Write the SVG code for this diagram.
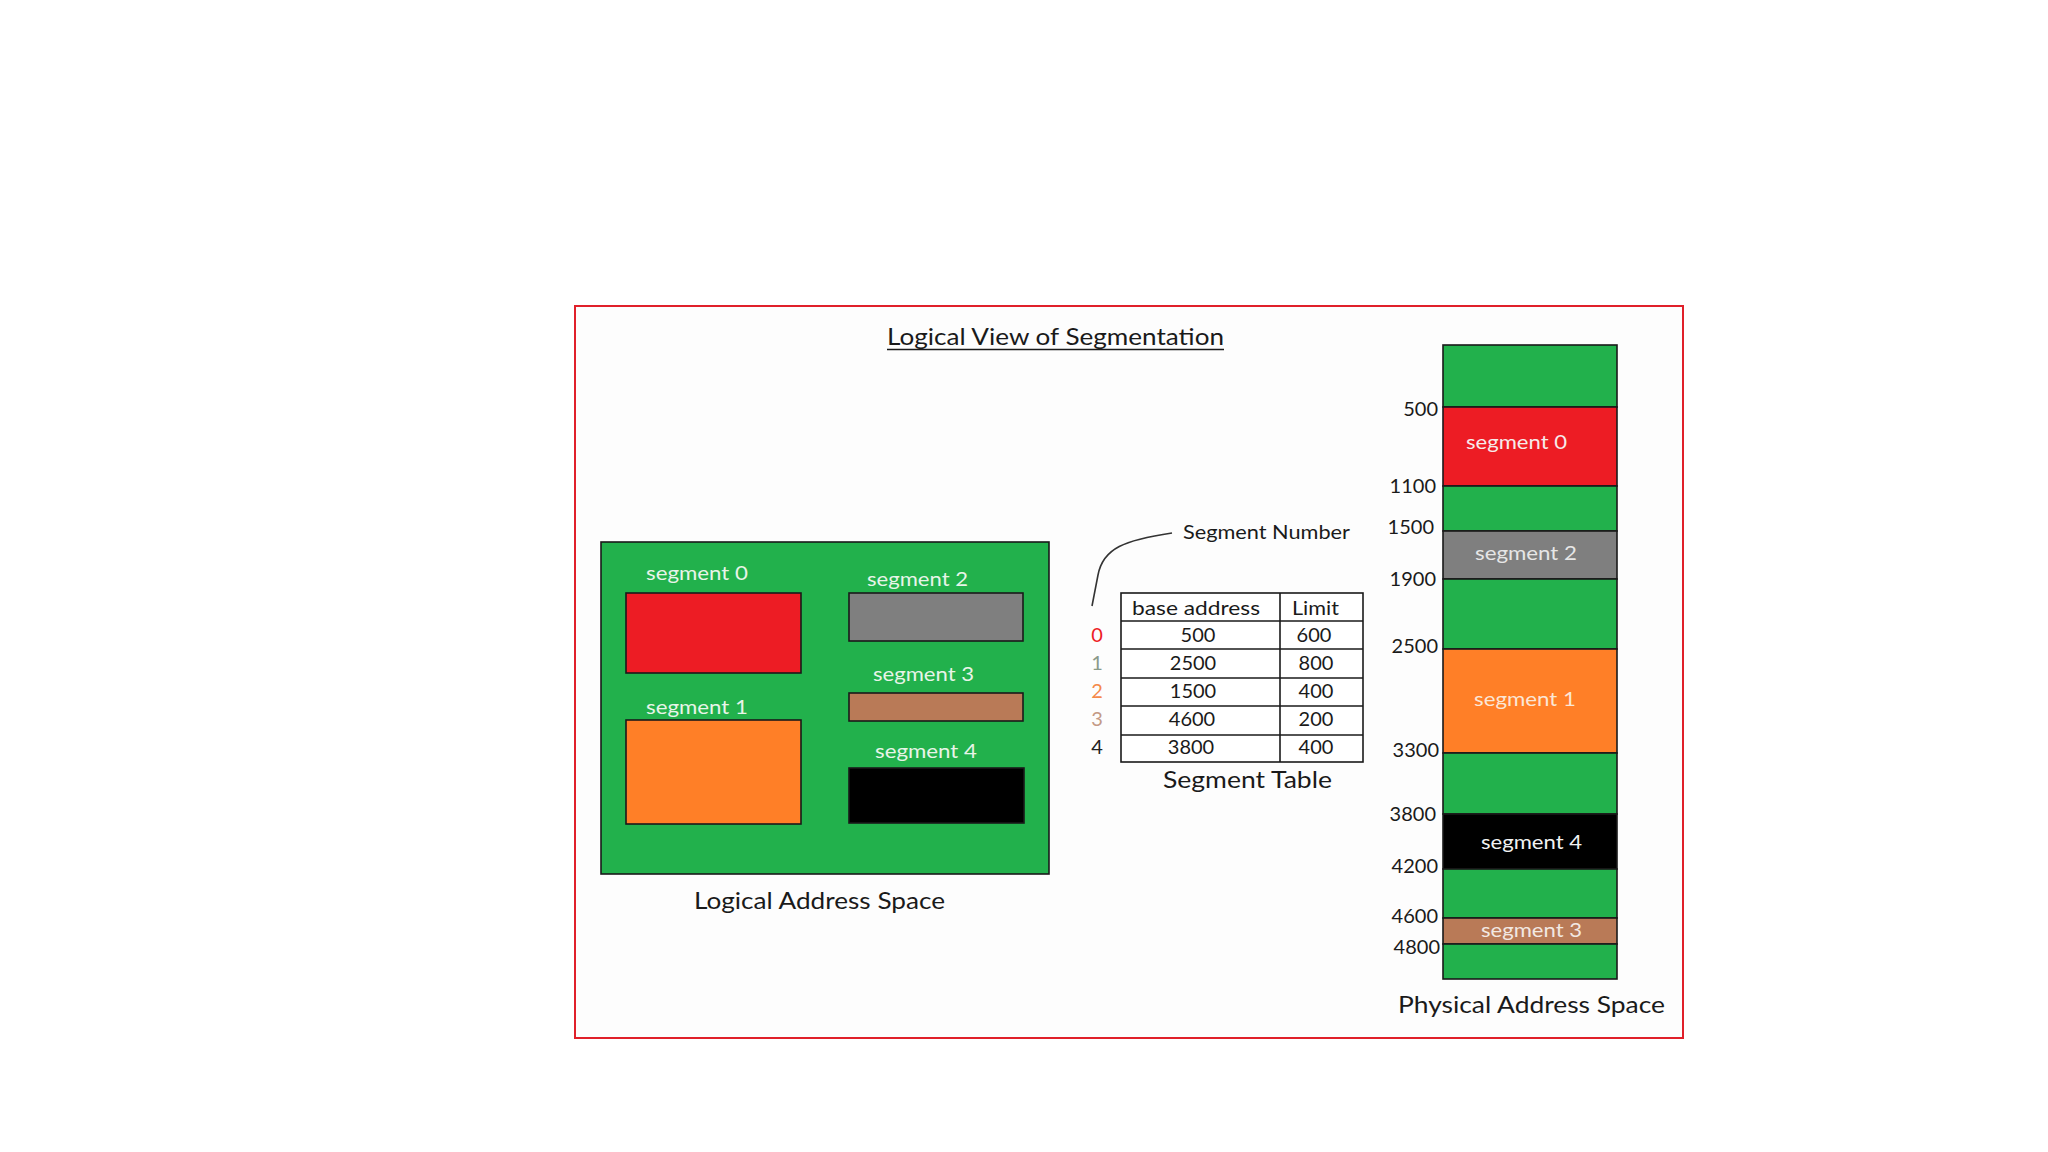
<svg xmlns="http://www.w3.org/2000/svg" width="2048" height="1152" viewBox="0 0 2048 1152">
<style>
.t{font-family:Lato,"Open Sans","Liberation Sans",sans-serif;fill:#1a1a1a}
.lbl{font-family:Lato,"Open Sans","Liberation Sans",sans-serif;fill:#e8f4e8;font-size:20px}
.num{font-family:Lato,"Open Sans","Liberation Sans",sans-serif;fill:#1a1a1a;font-size:20px;text-anchor:end}
.cell{font-family:Lato,"Open Sans","Liberation Sans",sans-serif;fill:#1a1a1a;font-size:20px;text-anchor:middle}
.idx{font-family:Lato,"Open Sans","Liberation Sans",sans-serif;font-size:20px;text-anchor:middle}
.blk{stroke:#1a1a1a;stroke-width:1.6}
.g{fill:#22b14c}.r{fill:#ed1c24}.o{fill:#ff7f27}.gr{fill:#7f7f7f}.br{fill:#b97a57}.k{fill:#000}
</style>
<rect width="2048" height="1152" fill="#ffffff"/>
<g id="frame">
<rect x="575" y="306" width="1108" height="732" fill="#fdfdfd" stroke="#e0202a" stroke-width="2"/>
<text class="t" x="887" y="345" font-size="24" textLength="337" lengthAdjust="spacingAndGlyphs">Logical View of Segmentation</text>
<line x1="887" y1="349.5" x2="1224" y2="349.5" stroke="#1a1a1a" stroke-width="1.5"/>
</g>
<g id="logical-address-space">
<rect class="g blk" x="601" y="542" width="448" height="332"/>
<rect id="ls0" class="r blk" x="626" y="593" width="175" height="80"/>
<rect id="ls1" class="o blk" x="626" y="720" width="175" height="104"/>
<rect id="ls2" class="gr blk" x="849" y="593" width="174" height="48"/>
<rect id="ls3" class="br blk" x="849" y="693" width="174" height="28"/>
<rect id="ls4" class="k blk" x="849" y="768" width="175" height="55"/>
<text class="lbl" x="646" y="580" textLength="102" lengthAdjust="spacingAndGlyphs">segment 0</text>
<text class="lbl" x="867" y="586" textLength="101" lengthAdjust="spacingAndGlyphs">segment 2</text>
<text class="lbl" x="873" y="681" textLength="101" lengthAdjust="spacingAndGlyphs">segment 3</text>
<text class="lbl" x="646" y="714" textLength="102" lengthAdjust="spacingAndGlyphs">segment 1</text>
<text class="lbl" x="875" y="758" textLength="102" lengthAdjust="spacingAndGlyphs">segment 4</text>
<text class="t" x="694" y="909" font-size="23" textLength="251" lengthAdjust="spacingAndGlyphs">Logical Address Space</text>
</g>
<g id="segment-table">
<rect x="1121" y="593" width="242" height="169" fill="#ffffff" stroke="#1a1a1a" stroke-width="1.6"/>
<g stroke="#1a1a1a" stroke-width="1.6">
<line x1="1280" y1="593" x2="1280" y2="762"/>
<line x1="1121" y1="621" x2="1363" y2="621"/>
<line x1="1121" y1="649" x2="1363" y2="649"/>
<line x1="1121" y1="678" x2="1363" y2="678"/>
<line x1="1121" y1="706" x2="1363" y2="706"/>
<line x1="1121" y1="735" x2="1363" y2="735"/>
</g>
<text class="t" x="1132" y="615" font-size="20" textLength="128" lengthAdjust="spacingAndGlyphs">base address</text>
<text class="t" x="1292" y="615" font-size="20" textLength="47" lengthAdjust="spacingAndGlyphs">Limit</text>
<text class="cell" x="1198" y="642">500</text><text class="cell" x="1314" y="642">600</text>
<text class="cell" x="1193" y="670">2500</text><text class="cell" x="1316" y="670">800</text>
<text class="cell" x="1193" y="698">1500</text><text class="cell" x="1316" y="698">400</text>
<text class="cell" x="1192" y="726">4600</text><text class="cell" x="1316" y="726">200</text>
<text class="cell" x="1191" y="754">3800</text><text class="cell" x="1316" y="754">400</text>
<text class="idx" x="1097" y="642" fill="#ed1c24">0</text>
<text class="idx" x="1097" y="670" fill="#8a9a8a">1</text>
<text class="idx" x="1097" y="698" fill="#f58a4a">2</text>
<text class="idx" x="1097" y="726" fill="#c49a86">3</text>
<text class="idx" x="1097" y="754" fill="#222222">4</text>
<text class="t" x="1163" y="788" font-size="23" textLength="169" lengthAdjust="spacingAndGlyphs">Segment Table</text>
<text class="t" x="1183" y="539" font-size="20" textLength="167" lengthAdjust="spacingAndGlyphs">Segment Number</text>
</g>
<g id="connectors">
<path d="M1172,533 C1125,540 1103,548 1098,575 L1092,606" fill="none" stroke="#333333" stroke-width="1.6"/>
</g>
<g id="physical-address-space">
<rect class="g blk" x="1443" y="345" width="174" height="62"/>
<rect class="r blk" x="1443" y="407" width="174" height="79"/>
<rect class="g blk" x="1443" y="486" width="174" height="45"/>
<rect class="gr blk" x="1443" y="531" width="174" height="48"/>
<rect class="g blk" x="1443" y="579" width="174" height="70"/>
<rect class="o blk" x="1443" y="649" width="174" height="104"/>
<rect class="g blk" x="1443" y="753" width="174" height="61"/>
<rect class="k blk" x="1443" y="814" width="174" height="55"/>
<rect class="g blk" x="1443" y="869" width="174" height="49"/>
<rect class="br blk" x="1443" y="918" width="174" height="26"/>
<rect class="g blk" x="1443" y="944" width="174" height="35"/>
<text class="lbl" x="1466" y="449" style="fill:#f6eaea" textLength="101" lengthAdjust="spacingAndGlyphs">segment 0</text>
<text class="lbl" x="1475" y="560" style="fill:#e6e6e6" textLength="102" lengthAdjust="spacingAndGlyphs">segment 2</text>
<text class="lbl" x="1474" y="706" style="fill:#fbe6d6" textLength="102" lengthAdjust="spacingAndGlyphs">segment 1</text>
<text class="lbl" x="1481" y="849" style="fill:#f2f2f2" textLength="101" lengthAdjust="spacingAndGlyphs">segment 4</text>
<text class="lbl" x="1481" y="937" style="fill:#f2e8e2" textLength="101" lengthAdjust="spacingAndGlyphs">segment 3</text>
<text class="num" x="1438" y="416">500</text>
<text class="num" x="1436" y="493">1100</text>
<text class="num" x="1434" y="534">1500</text>
<text class="num" x="1436" y="586">1900</text>
<text class="num" x="1438" y="653">2500</text>
<text class="num" x="1439" y="757">3300</text>
<text class="num" x="1436" y="821">3800</text>
<text class="num" x="1438" y="873">4200</text>
<text class="num" x="1438" y="923">4600</text>
<text class="num" x="1440" y="954">4800</text>
<text class="t" x="1398" y="1013" font-size="23" textLength="267" lengthAdjust="spacingAndGlyphs">Physical Address Space</text>
</g>
</svg>
